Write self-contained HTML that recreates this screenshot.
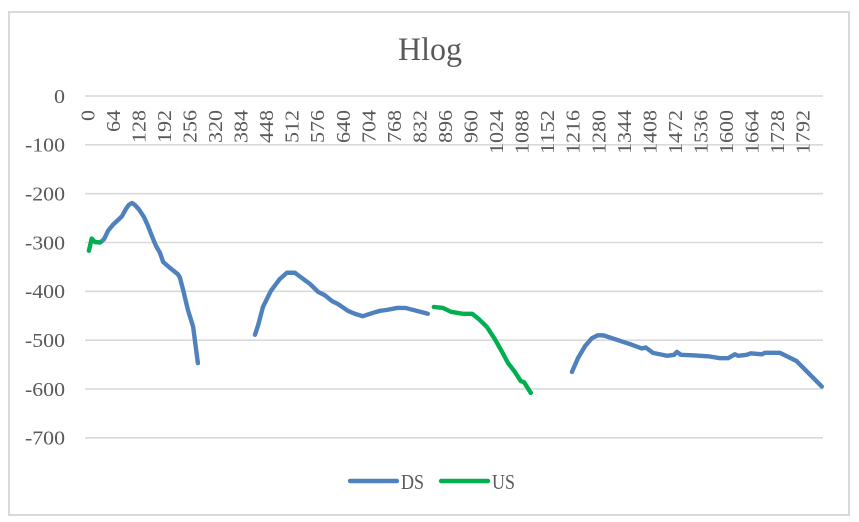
<!DOCTYPE html>
<html>
<head>
<meta charset="utf-8">
<title>Hlog</title>
<style>
html,body{margin:0;padding:0;background:#fff;width:859px;height:522px;overflow:hidden}
svg{display:block}
text{font-family:"Liberation Serif",serif;fill:#595959}
</style>
</head>
<body>
<svg id="chart" width="859" height="522" viewBox="0 0 859 522" xmlns="http://www.w3.org/2000/svg">
  <rect x="9" y="12" width="840" height="503" fill="#fff" stroke="#d9d9d9" stroke-width="2"/>
  <text x="430" y="60" font-size="33" text-anchor="middle" textLength="64" lengthAdjust="spacingAndGlyphs">Hlog</text>
  <g id="grid"></g>
  <g id="yLabels"></g>
  <g id="xLabels"></g>
  <g id="series"></g>
  <g>
    <line x1="350" y1="481" x2="397" y2="481" stroke="#4f81bd" stroke-width="4.4" stroke-linecap="round"/>
    <text x="401" y="489" font-size="21" textLength="23" lengthAdjust="spacingAndGlyphs">DS</text>
    <line x1="441" y1="481" x2="488" y2="481" stroke="#00b050" stroke-width="4.4" stroke-linecap="round"/>
    <text x="492" y="489" font-size="21" textLength="23" lengthAdjust="spacingAndGlyphs">US</text>
  </g>
</svg>
<script>
const yTicks = [0, -100, -200, -300, -400, -500, -600, -700];
const xTicks = [0, 64, 128, 192, 256, 320, 384, 448, 512, 576, 640, 704, 768, 832, 896, 960, 1024, 1088, 1152, 1216, 1280, 1344, 1408, 1472, 1536, 1600, 1664, 1728, 1792];

const dsTone1 = [30, 34, 42, 52, 64, 77, 87, 97, 104, 112, 119, 130, 142, 152, 162, 172, 182, 190, 207, 227, 232, 240, 252, 265, 277];
const dsHlog1 = [-300, -299, -293, -276, -264, -254, -246, -231, -223, -219, -223, -233, -248, -266, -287, -307, -321, -340, -352, -365, -372, -397, -438, -472, -547];
const dsTone2 = [420, 428, 440, 460, 482, 500, 520, 538, 558, 578, 595, 613, 628, 653, 670, 690, 716, 733, 751, 776, 796, 816, 853];
const dsHlog2 = [-489, -469, -432, -399, -375, -362, -362, -373, -385, -401, -408, -420, -426, -440, -446, -451, -444, -440, -438, -434, -434, -438, -446];
const dsTone3 = [1214, 1229, 1247, 1264, 1279, 1292, 1359, 1389, 1399, 1417, 1452, 1470, 1477, 1487, 1517, 1555, 1585, 1605, 1622, 1630, 1652, 1662, 1690, 1697, 1735, 1755, 1777, 1840];
const dsHlog3 = [-565, -537, -512, -496, -490, -490, -508, -517, -515, -526, -532, -530, -524, -530, -531, -533, -537, -537, -529, -532, -530, -527, -529, -526, -526, -534, -543, -595];
const usTone1 = [4, 11, 19, 32];
const usHlog1 = [-317, -292, -299, -300];
const usTone2 = [868, 891, 911, 941, 964, 981, 1001, 1021, 1039, 1054, 1071, 1086, 1094, 1111];
const usHlog2 = [-432, -434, -442, -446, -446, -457, -473, -498, -524, -547, -565, -584, -586, -608];

const NS = 'http://www.w3.org/2000/svg';
const xScale = function (i) { return 87.3 + 0.3992 * i; };
const yScale = function (v) { return 96 - 0.4883 * v; };

const gridG = document.getElementById('grid');
const yG = document.getElementById('yLabels');
const xG = document.getElementById('xLabels');
const seriesG = document.getElementById('series');

yTicks.forEach(function (t) {
  const line = document.createElementNS(NS, 'line');
  line.setAttribute('x1', 85);
  line.setAttribute('x2', 823);
  line.setAttribute('y1', yScale(t));
  line.setAttribute('y2', yScale(t));
  line.setAttribute('stroke', '#d9d9d9');
  line.setAttribute('stroke-width', '1.6');
  
  
  gridG.appendChild(line);

  const label = document.createElementNS(NS, 'text');
  label.setAttribute('x', 65);
  label.setAttribute('y', yScale(t) + 6.8);
  label.setAttribute('font-size', '20');
  label.setAttribute('text-anchor', 'end');
  label.setAttribute('textLength', t === 0 ? 11 : 40);
  label.setAttribute('lengthAdjust', 'spacingAndGlyphs');
  label.textContent = String(t);
  
  
  yG.appendChild(label);
});

xTicks.forEach(function (t) {
  const label = document.createElementNS(NS, 'text');
  const s = String(t);
  label.setAttribute('transform', 'translate(' + (xScale(t) + 7) + ',110) rotate(-90)');
  label.setAttribute('font-size', '20');
  label.setAttribute('text-anchor', 'end');
  label.setAttribute('textLength', s.length * 11);
  label.setAttribute('lengthAdjust', 'spacingAndGlyphs');
  label.textContent = s;
  
  
  xG.appendChild(label);
});

function drawSegment(tones, values, color, name) {
  const points = tones.map(function (tone, k) {
    return xScale(tone).toFixed(2) + ',' + yScale(values[k]).toFixed(2);
  }).join(' ');
  const line = document.createElementNS(NS, 'polyline');
  line.setAttribute('points', points);
  line.setAttribute('fill', 'none');
  line.setAttribute('stroke', color);
  line.setAttribute('stroke-width', '4.4');
  line.setAttribute('stroke-linejoin', 'round');
  line.setAttribute('stroke-linecap', 'round');
  
  
  seriesG.appendChild(line);
}

drawSegment(dsTone1, dsHlog1, '#4f81bd', 'ds-line-band-1');
drawSegment(dsTone2, dsHlog2, '#4f81bd', 'ds-line-band-2');
drawSegment(dsTone3, dsHlog3, '#4f81bd', 'ds-line-band-3');
drawSegment(usTone1, usHlog1, '#00b050', 'us-line-band-1');
drawSegment(usTone2, usHlog2, '#00b050', 'us-line-band-2');
</script>
</body>
</html>
